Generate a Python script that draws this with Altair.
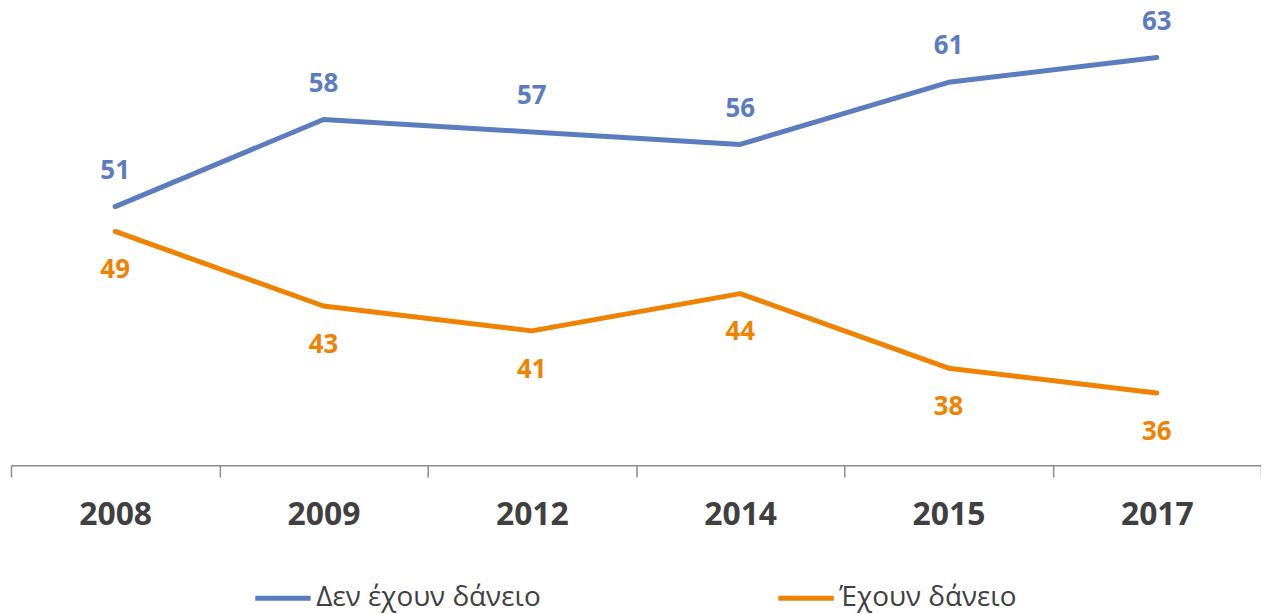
import altair as alt
import pandas as pd

years = ["2008", "2009", "2012", "2014", "2015", "2017"]
no_loan = [51, 58, 57, 56, 61, 63]
loan = [49, 43, 41, 44, 38, 36]
series_names = ["Δεν έχουν δάνειο", "Έχουν δάνειο"]
colors = ["#5B7DBF", "#EF8200"]

rows = []
for y, v in zip(years, no_loan):
    rows.append({"year": y, "value": v, "series": series_names[0]})
for y, v in zip(years, loan):
    rows.append({"year": y, "value": v, "series": series_names[1]})
df = pd.DataFrame(rows)

xenc = alt.X("year:N", sort=years, title=None,
             scale=alt.Scale(paddingInner=0, paddingOuter=0),
             axis=alt.Axis(labelAngle=0, labelFont="Open Sans", labelFontSize=32,
                           labelFontWeight="bold", labelColor="#404040",
                           labelPadding=23, tickBand="extent", tickSize=12,
                           tickColor="#8C8C8C", domainColor="#8C8C8C",
                           tickWidth=1.5, domainWidth=1.5, grid=False))
yenc = alt.Y("value:Q", title=None,
             scale=alt.Scale(domain=[30.2, 66.84], nice=False, zero=False),
             axis=None)
color = alt.Color("series:N", sort=series_names,
                  scale=alt.Scale(domain=series_names, range=colors),
                  legend=alt.Legend(title=None, orient="none", direction="horizontal",
                                    legendX=243, legendY=561,
                                    symbolType="stroke", symbolSize=3100,
                                    symbolStrokeWidth=5, labelFont="Open Sans",
                                    labelFontSize=28, labelColor="#404040",
                                    labelLimit=500,
                                    labelOffset=3, columnPadding=228))

base = alt.Chart(df)
lines = base.mark_line(strokeWidth=5, strokeCap="round", strokeJoin="round").encode(
    x=xenc, y=yenc, color=color)

label_color = alt.Color("series:N", scale=alt.Scale(domain=series_names, range=colors), legend=None)

top = base.transform_filter(alt.datum.series == series_names[0]).mark_text(
    dy=-36, font="Open Sans", fontSize=26, fontWeight="bold", baseline="middle"
).encode(x=alt.X("year:N", sort=years), y="value:Q", text="value:Q", color=label_color)

bottom = base.transform_filter(alt.datum.series == series_names[1]).mark_text(
    dy=39, font="Open Sans", fontSize=26, fontWeight="bold", baseline="middle"
).encode(x=alt.X("year:N", sort=years), y="value:Q", text="value:Q", color=label_color)

chart = alt.layer(lines, top, bottom).properties(
    width=1257, height=458, background="white",
    autosize=alt.AutoSizeParams(type="none"),
    padding={"left": 3, "top": 0, "right": 0, "bottom": 148}
).configure_view(stroke=None)

chart.save("out.html", embed_options={"renderer": "svg", "actions": False})
